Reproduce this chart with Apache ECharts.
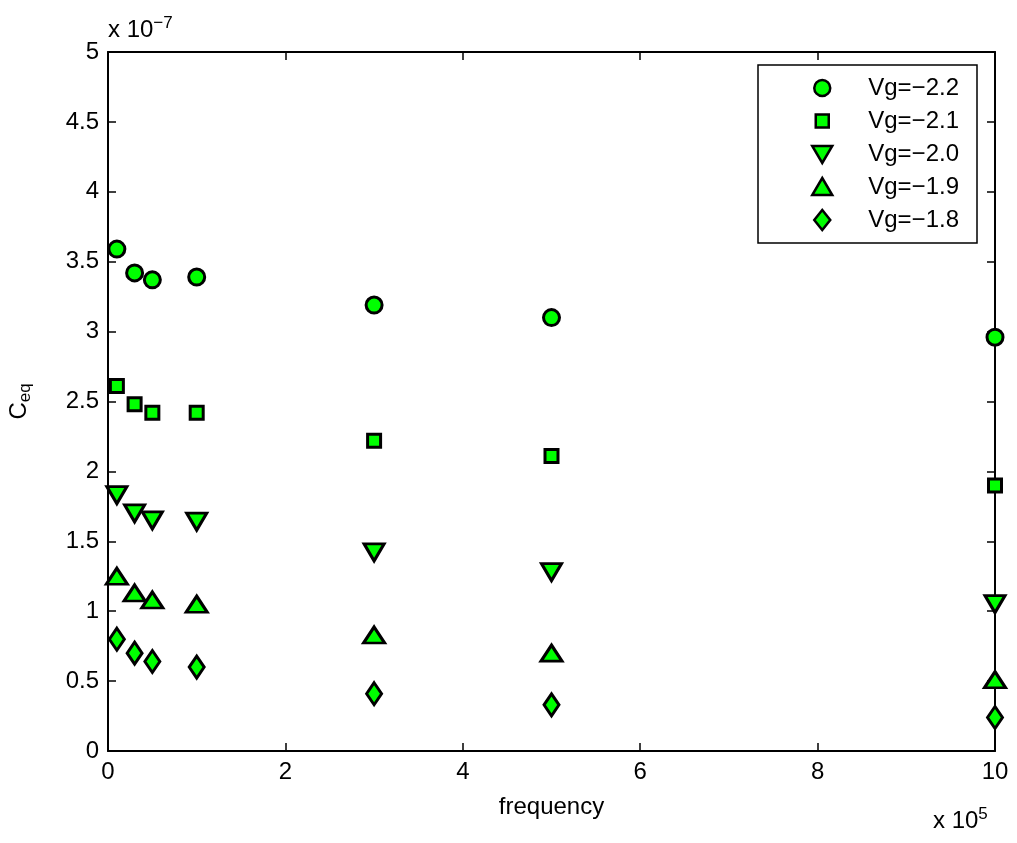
<!DOCTYPE html>
<html>
<head>
<meta charset="utf-8">
<script src="https://cdn.jsdelivr.net/npm/echarts@6/dist/echarts.min.js"></script>
<style>
  html, body { margin: 0; padding: 0; background: #fff; }
  #chart { width: 1017px; height: 843px; }
</style>
</head>
<body>
<div id="chart"></div>
<script>
// Frequency in units of 1e5 Hz, capacitance in units of 1e-7
const frequency = [0.1, 0.3, 0.5, 1, 3, 5, 10];
const vg22 = [3.59, 3.42, 3.37, 3.39, 3.19, 3.10, 2.96];
const vg21 = [2.61, 2.48, 2.42, 2.42, 2.22, 2.11, 1.90];
const vg20 = [1.83, 1.70, 1.65, 1.64, 1.42, 1.28, 1.05];
const vg19 = [1.25, 1.13, 1.08, 1.05, 0.83, 0.70, 0.51];
const vg18 = [0.80, 0.70, 0.64, 0.60, 0.41, 0.33, 0.24];
const seriesNames = ['Vg=\u22122.2', 'Vg=\u22122.1', 'Vg=\u22122.0', 'Vg=\u22121.9', 'Vg=\u22121.8'];
const xTicks = [0, 2, 4, 6, 8, 10];
const yTicks = [0, 0.5, 1, 1.5, 2, 2.5, 3, 3.5, 4, 4.5, 5];

const font = 'Liberation Sans, Arial, sans-serif';
const green = '#00ff00';
const markerStyle = { color: green, opacity: 1, borderColor: '#000', borderWidth: 3 };

function pairs(ys) { return frequency.map((f, i) => [f, ys[i]]); }

const downTri = 'path://M0,0 L20,0 L10,17 Z';
const upTri = 'path://M10,0 L20,17 L0,17 Z';
const diamond = 'path://M8,0 L16,11 L8,22 L0,11 Z';

// Legend icons: the leading moves pad each glyph inside a 20x20 box
const legendIcons = [
  'path://M0,0 M20,20 M2,10 A8,8 0 1,1 18,10 A8,8 0 1,1 2,10 Z',
  'path://M0,0 M20,20 M3.5,3.5 L16.5,3.5 L16.5,16.5 L3.5,16.5 Z',
  'path://M0,0 M20,20 M0,2 L20,2 L10,19 Z',
  'path://M0,0 M20,20 M10,1 L20,18 L0,18 Z',
  'path://M0,0 M20,20 M2,10 L10,0 L18,10 L10,20 Z'
];

const shapes = [
  { data: vg22, symbol: 'circle', size: 16 },
  { data: vg21, symbol: 'rect', size: 13 },
  { data: vg20, symbol: downTri, size: [20, 17] },
  { data: vg19, symbol: upTri, size: [21, 16] },
  { data: vg18, symbol: diamond, size: [15, 22] }
];

function axisLine() { return { show: true, onZero: false, lineStyle: { color: '#000', width: 2 } }; }
function tickIn() { return { show: true, inside: true, length: 8, lineStyle: { color: '#000', width: 1.5 } }; }

const chart = echarts.init(document.getElementById('chart'), null, { renderer: 'canvas' });
chart.setOption({
  animation: false,
  backgroundColor: '#fff',
  grid: { left: 108, right: 22, top: 52, bottom: 92, containLabel: false, outerBoundsMode: 'none' },
  xAxis: [
    {
      type: 'value', min: 0, max: 10, interval: 2,
      axisLine: axisLine(), axisTick: tickIn(), splitLine: { show: false },
      axisLabel: { color: '#000', fontSize: 24, fontFamily: font, margin: 9,
        formatter: v => xTicks.includes(v) ? String(v) : '' },
      name: 'frequency', nameLocation: 'middle', nameGap: 44,
      nameTextStyle: { color: '#000', fontSize: 24, fontFamily: font }
    },
    {
      type: 'value', position: 'top', min: 0, max: 10, interval: 2,
      axisLine: axisLine(), axisTick: tickIn(), axisLabel: { show: false }, splitLine: { show: false }
    }
  ],
  yAxis: [
    {
      type: 'value', min: 0, max: 5, interval: 0.5,
      axisLine: axisLine(), axisTick: tickIn(), splitLine: { show: false },
      axisLabel: { color: '#000', fontSize: 24, fontFamily: font, margin: 9,
        formatter: v => yTicks.includes(v) ? String(v) : '' },
      name: 'C{sub|eq}', nameLocation: 'middle', nameGap: 74, nameRotate: 90,
      nameTextStyle: { color: '#000', fontSize: 24, fontFamily: font,
        rich: { sub: { fontSize: 17, fontFamily: font, color: '#000', verticalAlign: 'bottom', padding: [12, 0, 0, 0] } } }
    },
    {
      type: 'value', position: 'right', min: 0, max: 5, interval: 0.5,
      axisLine: axisLine(), axisTick: tickIn(), axisLabel: { show: false }, splitLine: { show: false }
    }
  ],
  legend: {
    orient: 'vertical',
    right: 40, top: 65,
    padding: [11, 18, 11, 53],
    itemGap: 9,
    itemWidth: 20, itemHeight: 20,
    borderColor: '#000', borderWidth: 1.5,
    backgroundColor: '#fff',
    itemStyle: { color: green, opacity: 1, borderColor: '#000', borderWidth: 2.5 },
    textStyle: { color: '#000', fontSize: 24, fontFamily: font, lineHeight: 20, padding: [0, 0, 0, 31] },
    data: seriesNames.map((n, i) => ({ name: n, icon: legendIcons[i] }))
  },
  series: shapes.map((s, i) => ({
    name: seriesNames[i],
    type: 'scatter',
    data: pairs(s.data),
    symbol: s.symbol,
    symbolSize: s.size,
    itemStyle: markerStyle,
    clip: false,
    z: 3
  })).concat([{
    // empty series bound to the mirrored top/right axes
    type: 'scatter', xAxisIndex: 1, yAxisIndex: 1, data: [], silent: true
  }]),
  graphic: [
    {
      type: 'text', left: 108, top: 15,
      style: {
        text: 'x 10{sup|\u22127}', fill: '#000', font: '24px ' + font,
        rich: { sup: { fontSize: 17, fontFamily: font, fill: '#000', padding: [0, 0, 14, 0] } }
      }
    },
    {
      type: 'text', left: 933, top: 806,
      style: {
        text: 'x 10{sup|5}', fill: '#000', font: '24px ' + font,
        rich: { sup: { fontSize: 17, fontFamily: font, fill: '#000', padding: [0, 0, 14, 0] } }
      }
    }
  ]
});
</script>
</body>
</html>
